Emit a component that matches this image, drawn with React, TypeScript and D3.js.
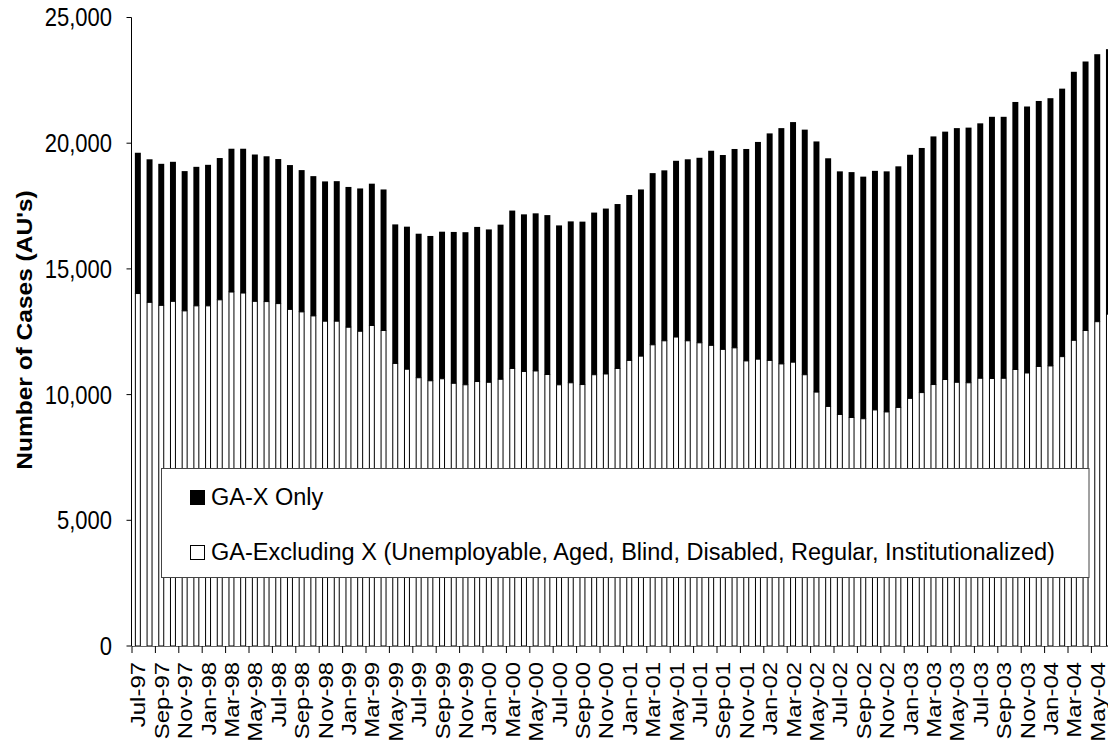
import React from "react";
import * as d3 from "d3";

const months: string[] = [
  "Jul-97","Aug-97","Sep-97","Oct-97","Nov-97","Dec-97",
  "Jan-98","Feb-98","Mar-98","Apr-98","May-98","Jun-98","Jul-98","Aug-98","Sep-98","Oct-98","Nov-98","Dec-98",
  "Jan-99","Feb-99","Mar-99","Apr-99","May-99","Jun-99","Jul-99","Aug-99","Sep-99","Oct-99","Nov-99","Dec-99",
  "Jan-00","Feb-00","Mar-00","Apr-00","May-00","Jun-00","Jul-00","Aug-00","Sep-00","Oct-00","Nov-00","Dec-00",
  "Jan-01","Feb-01","Mar-01","Apr-01","May-01","Jun-01","Jul-01","Aug-01","Sep-01","Oct-01","Nov-01","Dec-01",
  "Jan-02","Feb-02","Mar-02","Apr-02","May-02","Jun-02","Jul-02","Aug-02","Sep-02","Oct-02","Nov-02","Dec-02",
  "Jan-03","Feb-03","Mar-03","Apr-03","May-03","Jun-03","Jul-03","Aug-03","Sep-03","Oct-03","Nov-03","Dec-03",
  "Jan-04","Feb-04","Mar-04","Apr-04","May-04","Jun-04",
];

// GA-Excluding X (Unemployable, Aged, Blind, Disabled, Regular, Institutionalized) — bottom (white)
const gaExcludingX: number[] = [
  14020,13670,13550,13710,13330,13530,
  13530,13770,14080,14040,13710,13700,13620,13390,13290,13130,12920,12920,
  12680,12520,12750,12550,11240,11010,10670,10550,10630,10450,10390,10520,
  10490,10610,11040,10920,10940,10800,10390,10470,10400,10790,10820,11040,
  11360,11530,11980,12140,12290,12140,12060,11960,11800,11860,11340,11410,
  11360,11220,11290,10790,10100,9530,9210,9090,9040,9390,9310,9490,
  9850,10080,10400,10600,10490,10470,10650,10640,10650,11000,10860,11120,
  11140,11510,12160,12550,12900,13200,
];

// GA-X Only — top (black)
const gaXOnly: number[] = [
  5600,5690,5630,5550,5560,5530,
  5610,5640,5700,5740,5840,5780,5750,5740,5640,5560,5560,5570,
  5580,5680,5640,5610,5530,5670,5730,5760,5850,6020,6070,6150,
  6080,6150,6280,6250,6270,6340,6340,6420,6480,6450,6580,6540,
  6580,6630,6830,6780,7010,7220,7360,7740,7730,7910,8430,8640,
  9030,9380,9550,9750,9970,9870,9670,9760,9630,9510,9570,9590,
  9690,9730,9870,9860,10110,10150,10140,10410,10400,10640,10600,10560,
  10650,10660,10680,10700,10640,10540,
];

const yTicks: number[] = [0, 5000, 10000, 15000, 20000, 25000];
const yTitle = "Number of Cases (AU's)";
const legendItems: string[] = [
  "GA-X Only",
  "GA-Excluding X (Unemployable, Aged, Blind, Disabled, Regular, Institutionalized)",
];

const W = 1108;
const H = 741;
const FONT = "'Liberation Sans', Arial, Helvetica, sans-serif";

export default function App() {
  const plotLeft = 132;
  const step = 11.7;
  const plotRight = plotLeft + months.length * step;
  const y0 = 646;
  const yTop = 17.5;

  const x = d3
    .scaleBand<string>()
    .domain(months)
    .range([plotLeft, plotRight])
    .paddingInner(0.49)
    .paddingOuter(0.245);
  const y = d3.scaleLinear().domain([0, 25000]).range([y0, yTop]);
  const fmt = d3.format(",");

  const stackData = months.map((m, i) => ({
    month: m,
    excl: gaExcludingX[i],
    xonly: gaXOnly[i],
  }));
  const stack = d3.stack<any>().keys(["excl", "xonly"]);
  const series = stack(stackData);

  const bw = x.bandwidth();

  return (
    <svg
      width={W}
      height={H}
      style={{ display: "block", position: "absolute", left: 0, top: 0, background: "#fff" }}
      fontFamily={FONT}
    >
      <rect x={0} y={0} width={W} height={H} fill="#fff" />

      {/* bottom series: white bars with black outline */}
      <g>
        {series[0].map((d, i) => (
          <rect
            key={"w" + i}
            x={(x(months[i]) as number) + 0.5}
            y={y(d[1])}
            width={bw - 1}
            height={y(d[0]) - y(d[1])}
            fill="#fff"
            stroke="#000"
            strokeWidth={1}
          />
        ))}
      </g>
      {/* top series: black bars */}
      <g>
        {series[1].map((d, i) => (
          <rect
            key={"b" + i}
            x={x(months[i]) as number}
            y={y(d[1])}
            width={bw}
            height={y(d[0]) - y(d[1])}
            fill="#000"
          />
        ))}
      </g>

      {/* y axis */}
      <line x1={131.5} x2={131.5} y1={yTop} y2={y0} stroke="#000" strokeWidth={1} />
      {yTicks.map((t) => (
        <g key={"yt" + t}>
          <line x1={126.5} x2={131.5} y1={y(t)} y2={y(t)} stroke="#000" strokeWidth={1} />
          <text
            transform={`translate(112,${y(t)}) scale(1,1.13)`}
            textAnchor="end"
            dy="0.36em"
            fontSize={22}
            fill="#000"
          >
            {fmt(t)}
          </text>
        </g>
      ))}

      {/* x axis */}
      <line x1={plotLeft} x2={plotRight} y1={y0 + 0.5} y2={y0 + 0.5} stroke="#666" strokeWidth={1} />
      {months.map((m, i) =>
        i % 2 === 0 ? (
          <line
            key={"xt" + i}
            x1={plotLeft + i * step}
            x2={plotLeft + i * step}
            y1={y0}
            y2={y0 + 7}
            stroke="#000"
            strokeWidth={1}
          />
        ) : null
      )}
      {months.map((m, i) =>
        i % 2 === 0 ? (
          <text
            key={"xl" + i}
            transform={`translate(${(x(m) as number) + bw / 2},662) rotate(-90) scale(1.14,1)`}
            textAnchor="end"
            dy="0.36em"
            fontSize={21}
            fill="#000"
          >
            {m}
          </text>
        ) : null
      )}

      {/* y title */}
      <text
        transform="translate(24,330) rotate(-90) scale(1.14,1)"
        textAnchor="middle"
        dy="0.36em"
        fontSize={21.5}
        fontWeight="bold"
        fill="#000"
      >
        {yTitle}
      </text>

      {/* legend */}
      <g>
        <rect x={161.5} y={468.5} width={927.5} height={109} fill="#fff" stroke="#444" strokeWidth={1} />
        <rect x={190} y={490} width={15} height={15} fill="#000" />
        <text x={211} y={505} fontSize={23.5} fill="#000">
          {legendItems[0]}
        </text>
        <rect x={190.5} y={545.5} width={14} height={14} fill="#fff" stroke="#000" strokeWidth={1} />
        <text x={211} y={560} fontSize={23.5} fill="#000">
          {legendItems[1]}
        </text>
      </g>
    </svg>
  );
}
